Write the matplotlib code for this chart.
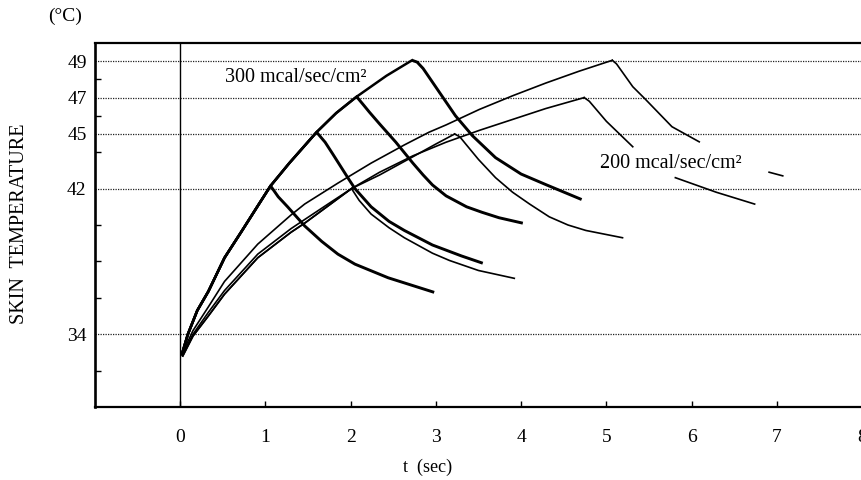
import numpy as np
import matplotlib
matplotlib.use("Agg")
import matplotlib.pyplot as plt

nan = np.nan

# ---- 300 mcal/sec/cm2 : heating (shared) and cooling branches ----
t_rise_300 = [0.02, 0.09, 0.20, 0.33, 0.52, 0.72, 0.91, 1.06, 1.28, 1.60, 1.83, 2.07, 2.42, 2.72]
T_rise_300 = [32.9, 34.0, 35.3, 36.35, 38.2, 39.65, 41.05, 42.15, 43.4, 45.1, 46.15, 47.05, 48.2, 49.05]
peak_idx_300 = [7, 9, 11, 13]

t_cool_300_42 = [1.06, 1.15, 1.26, 1.46, 1.66, 1.85, 2.05, 2.44, 2.98]
T_cool_300_42 = [42.15, 41.55, 41.0, 39.95, 39.1, 38.4, 37.85, 37.1, 36.3]
t_cool_300_45 = [1.60, 1.70, 1.79, 1.98, 2.05, 2.24, 2.45, 2.63, 2.96, 3.30, 3.55]
T_cool_300_45 = [45.1, 44.55, 43.9, 42.5, 42.0, 41.0, 40.2, 39.7, 38.9, 38.3, 37.9]
t_cool_300_47 = [2.07, 2.15, 2.22, 2.34, 2.53, 2.73, 2.85, 2.96, 3.12, 3.36, 3.54, 3.74, 4.02]
T_cool_300_47 = [47.05, 46.6, 46.2, 45.55, 44.55, 43.4, 42.75, 42.2, 41.6, 41.0, 40.7, 40.4, 40.1]
t_cool_300_49 = [2.72, 2.78, 2.85, 3.04, 3.23, 3.43, 3.70, 4.00, 4.30, 4.71]
T_cool_300_49 = [49.05, 48.95, 48.6, 47.3, 46.0, 44.9, 43.7, 42.8, 42.2, 41.4]

# ---- 200 mcal/sec/cm2 : heating curves ----
t_rise_200_49 = [0.03, 0.15, 0.33, 0.52, 0.91, 1.30, 1.46, 1.85, 2.24, 2.63, 2.92, 3.12, 3.51, 3.90, 4.29, 4.68, 5.07]
T_rise_200_49 = [33.0, 34.2, 35.5, 36.9, 38.95, 40.55, 41.15, 42.3, 43.4, 44.4, 45.1, 45.5, 46.35, 47.1, 47.8, 48.45, 49.05]
t_rise_200_47 = [0.03, 0.15, 0.33, 0.52, 0.91, 1.30, 1.46, 1.75, 2.01, 2.34, 2.73, 3.12, 3.51, 3.90, 4.29, 4.74]
T_rise_200_47 = [32.9, 34.0, 35.2, 36.4, 38.4, 39.8, 40.3, 41.2, 42.0, 42.9, 43.8, 44.55, 45.2, 45.8, 46.4, 47.0]
t_rise_200_45 = [0.03, 0.15, 0.33, 0.52, 0.91, 1.30, 1.46, 1.75, 2.01, 2.34, 2.73, 3.00, 3.22]
T_rise_200_45 = [32.8, 33.9, 35.0, 36.2, 38.2, 39.6, 40.1, 41.1, 42.0, 42.75, 43.75, 44.45, 45.0]
branch_idx_200_42 = 8

# ---- 200 mcal/sec/cm2 : cooling curves (gaps where the label covers them) ----
t_cool_200_42 = [2.01, 2.10, 2.24, 2.45, 2.63, 2.96, 3.16, 3.50, 3.92]
T_cool_200_42 = [42.0, 41.35, 40.6, 39.85, 39.3, 38.45, 38.05, 37.5, 37.07]
t_cool_200_45 = [3.22, 3.28, 3.35, 3.50, 3.70, 3.90, 4.10, 4.33, 4.55, 4.76, 5.19]
T_cool_200_45 = [45.0, 44.85, 44.45, 43.6, 42.6, 41.8, 41.15, 40.45, 40.0, 39.7, 39.3]
t_cool_200_47 = [4.74, 4.80, 5.00, 5.31, nan, 5.81, 6.29, 6.74]
T_cool_200_47 = [47.0, 46.8, 45.7, 44.3, nan, 42.6, 41.8, 41.15]
t_cool_200_49 = [5.07, 5.12, 5.31, 5.46, 5.77, 6.09, nan, 6.91, 7.07]
T_cool_200_49 = [49.05, 48.85, 47.6, 46.9, 45.4, 44.57, nan, 42.9, 42.7]

x_ticks = [0, 1, 2, 3, 4, 5, 6, 7, 8]
y_major = [34, 42, 45, 47, 49]
y_minor = [32, 36, 38, 40, 44, 46, 48]

SERIF = ["Liberation Serif", "DejaVu Serif"]
plt.rcParams["font.family"] = SERIF

fig = plt.figure(figsize=(8.62, 4.8), dpi=100)
ax = fig.add_axes([95 / 862, (480 - 407) / 480, (862 - 95) / 862, (407 - 43) / 480])
ax.set_xlim(-1, 8)
ax.set_ylim(30, 50)

for y in y_major:
    ax.axhline(y, color="#222222", lw=0.9, ls=(0, (1, 1)), zorder=1)
ax.axvline(0, color="black", lw=1.0, zorder=2)

thick = 2.1
thin = 1.2

cool_300 = [(t_cool_300_42, T_cool_300_42), (t_cool_300_45, T_cool_300_45),
            (t_cool_300_47, T_cool_300_47), (t_cool_300_49, T_cool_300_49)]
for pk, (tc, Tc) in zip(peak_idx_300, cool_300):
    ax.plot(t_rise_300[:pk + 1], T_rise_300[:pk + 1], color="black", lw=1.8,
            zorder=3, solid_joinstyle="round")
    ax.plot(tc, Tc, color="black", lw=thick, zorder=3, solid_joinstyle="round",
            solid_capstyle="butt")

for t, T in [(t_rise_200_49, T_rise_200_49), (t_rise_200_47, T_rise_200_47),
             (t_rise_200_45, T_rise_200_45),
             (t_rise_200_45[:branch_idx_200_42 + 1], T_rise_200_45[:branch_idx_200_42 + 1]),
             (t_cool_200_42, T_cool_200_42), (t_cool_200_45, T_cool_200_45),
             (t_cool_200_47, T_cool_200_47), (t_cool_200_49, T_cool_200_49)]:
    ax.plot(t, T, color="black", lw=thin, zorder=3, solid_joinstyle="round")

ax.text(0.52, 48.1, "300 mcal/sec/cm²", fontsize=14.5, va="center", ha="left", family=SERIF)
ax.text(4.92, 43.4, "200 mcal/sec/cm²", fontsize=14.5, va="center", ha="left", family=SERIF)

ax.set_xticks(x_ticks)
ax.set_xticklabels([str(v) for v in x_ticks])
ax.set_yticks(y_major)
ax.set_yticklabels([str(v) for v in y_major])
ax.set_yticks(y_minor, minor=True)
ax.tick_params(axis="x", direction="in", length=4, width=1, pad=16, labelsize=14)
ax.tick_params(axis="y", which="major", length=0, pad=6, labelsize=14)
ax.tick_params(axis="y", which="minor", direction="in", length=4, width=1)

for s, w in zip(["left", "bottom", "top", "right"], [1.9, 1.6, 1.6, 1.2]):
    ax.spines[s].set_linewidth(w)
    ax.spines[s].set_color("black")

fig.text(65 / 862, 1 - 16 / 480, "(°C)", fontsize=14, ha="center", va="center")
fig.text(20 / 862, 1 - 224 / 480, "SKIN  TEMPERATURE", fontsize=14.5, rotation=90,
         ha="center", va="center")
fig.text(428 / 862, 1 - 467 / 480, "t  (sec)", fontsize=13, ha="center", va="center")

fig.savefig("out.png", dpi=100)
